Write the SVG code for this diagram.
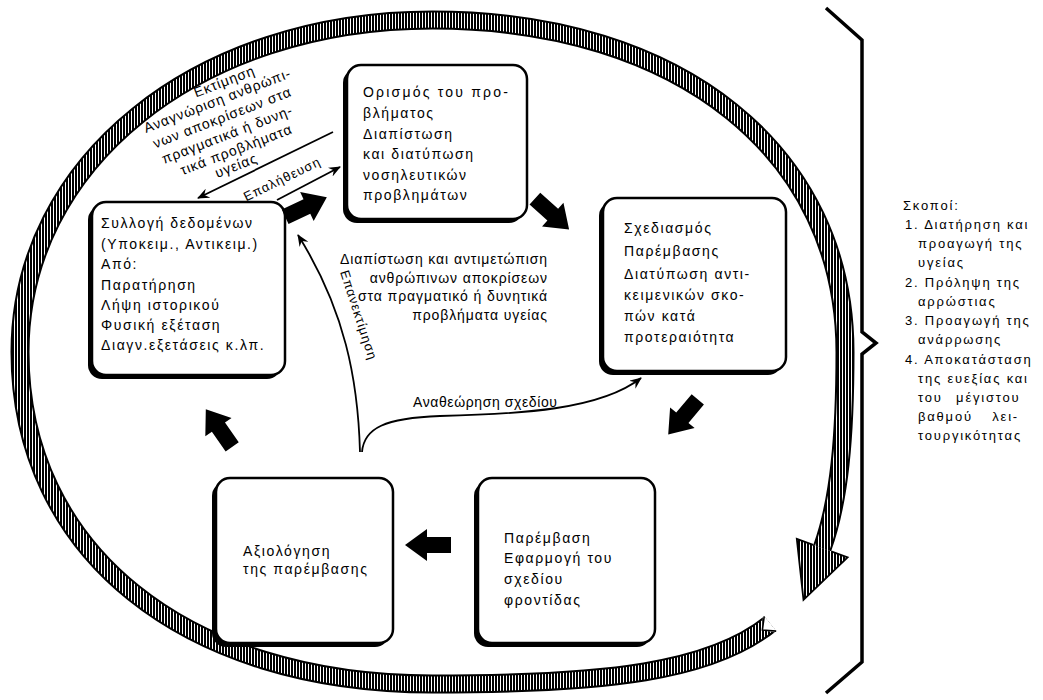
<svg xmlns="http://www.w3.org/2000/svg" width="1043" height="700" viewBox="0 0 1043 700">
<defs>
<pattern id="hatch" patternUnits="userSpaceOnUse" width="3" height="10">
<rect width="3" height="10" fill="#fff"/>
<rect width="2" height="10" fill="#000"/>
</pattern>
<marker id="ah" viewBox="0 0 12 10" refX="11" refY="5" markerWidth="12" markerHeight="10" markerUnits="userSpaceOnUse" orient="auto-start-reverse">
<path d="M0,0 L12,5 L0,10 L4,5 z" fill="#000"/>
</marker>
<path id="blk" d="M-23,-8 L1,-8 L1,-16 L23,0 L1,16 L1,8 L-23,8 Z"/>
</defs>
<style>
.t{font-family:"Liberation Sans","DejaVu Sans",sans-serif;font-size:14px;fill:#000;letter-spacing:1.6px}
.s{font-size:13px;letter-spacing:1px}
.g{font-size:13px;letter-spacing:1.8px}
.c{font-size:14px;letter-spacing:0.9px}
.box{fill:#fff;stroke:#000;stroke-width:2.5}
.shd{fill:#000}
.ln{fill:none;stroke:#000;stroke-width:1.8}
.blk{fill:#000}
</style>
<rect width="1043" height="700" fill="#fff"/>

<g id="ring">
<path d="M770.2 623.75 C710.9 671.5 607.8 684 432.5 684 C185 684 20 551.2 20 352 C20 162.8 197.4 20 432.5 20 C680 20 845 152.8 845 352 C845 436.6 839.4 500.3 822.2 548.1" fill="none" stroke="#000" stroke-width="19"/>
<path d="M770.2 623.75 C710.9 671.5 607.8 684 432.5 684 C185 684 20 551.2 20 352 C20 162.8 197.4 20 432.5 20 C680 20 845 152.8 845 352 C845 436.6 839.4 500.3 822.2 548.1" fill="none" stroke="url(#hatch)" stroke-width="15"/>
<polygon points="847.6,557.3 796.8,538.9 803.5,599.8" fill="url(#hatch)"/>
<polyline points="813.2,544.8 796.8,538.9 803.5,599.8 847.6,557.3 831.2,551.4" fill="none" stroke="#000" stroke-width="1.8"/>
<polygon points="778,633 763,614.5 762.4,630" fill="#fff"/>
<polyline points="776.2,631.1 762.4,630 764.2,616.4" fill="none" stroke="#000" stroke-width="1.6"/>
</g>

<g id="brace">
<path d="M826 8 L862 40 L862 332 L876 343 L862 354 L862 662 L826 693" fill="none" stroke="#000" stroke-width="3.5" stroke-linejoin="miter"/>
</g>

<g id="assessment-label">
<text transform="translate(226,86) rotate(-21)" text-anchor="middle" class="t c">Εκτίμηση</text>
<text transform="translate(219,105) rotate(-21)" text-anchor="middle" class="t c">Αναγνώριση ανθρώπι-</text>
<text transform="translate(224,122) rotate(-21)" text-anchor="middle" class="t c">νων αποκρίσεων στα</text>
<text transform="translate(229,139) rotate(-21)" text-anchor="middle" class="t c">πραγματικά ή δυνη-</text>
<text transform="translate(238,154) rotate(-21)" text-anchor="middle" class="t c">τικά προβλήματα</text>
<text transform="translate(238,170) rotate(-21)" text-anchor="middle" class="t c">υγείας</text>
</g>

<g id="node-collection">
<rect x="88" y="206" width="193" height="173" rx="14" class="shd"/>
<rect x="92" y="202" width="193" height="173" rx="14" class="box"/>
<text class="t" x="101" y="228">Συλλογή δεδομένων</text>
<text class="t" x="101" y="249">(Υποκειμ., Αντικειμ.)</text>
<text class="t" x="101" y="269">Από:</text>
<text class="t" x="101" y="290">Παρατήρηση</text>
<text class="t" x="101" y="310">Λήψη ιστορικού</text>
<text class="t" x="101" y="330">Φυσική εξέταση</text>
<text class="t" x="101" y="350">Διαγν.εξετάσεις κ.λπ.</text>
</g>

<g id="node-definition">
<rect x="343" y="69" width="180" height="154" rx="14" class="shd"/>
<rect x="347" y="65" width="180" height="154" rx="14" class="box"/>
<text class="t" x="363" y="97" style="letter-spacing:2.2px">Ορισμός του προ-</text>
<text class="t" x="363" y="118">βλήματος</text>
<text class="t" x="363" y="139">Διαπίστωση</text>
<text class="t" x="363" y="159">και διατύπωση</text>
<text class="t" x="363" y="180">νοσηλευτικών</text>
<text class="t" x="363" y="200">προβλημάτων</text>
</g>

<g id="node-planning">
<rect x="599" y="202" width="183" height="173" rx="14" class="shd"/>
<rect x="603" y="198" width="183" height="173" rx="14" class="box"/>
<text class="t" x="624" y="233">Σχεδιασμός</text>
<text class="t" x="624" y="256">Παρέμβασης</text>
<text class="t" x="624" y="279">Διατύπωση αντι-</text>
<text class="t" x="624" y="300">κειμενικών σκο-</text>
<text class="t" x="624" y="321">πών κατά</text>
<text class="t" x="624" y="342">προτεραιότητα</text>
</g>

<g id="node-intervention">
<rect x="474" y="482" width="177" height="165" rx="14" class="shd"/>
<rect x="478" y="478" width="177" height="165" rx="14" class="box"/>
<text class="t" x="504" y="543">Παρέμβαση</text>
<text class="t" x="504" y="563">Εφαρμογή του</text>
<text class="t" x="504" y="584">σχεδίου</text>
<text class="t" x="504" y="605">φροντίδας</text>
</g>

<g id="node-evaluation">
<rect x="212" y="482" width="177" height="165" rx="14" class="shd"/>
<rect x="216" y="478" width="177" height="165" rx="14" class="box"/>
<text class="t" x="243" y="556">Αξιολόγηση</text>
<text class="t" x="243" y="574">της παρέμβασης</text>
</g>

<g id="center-label">
<text class="t c" x="548" y="264" text-anchor="end">Διαπίστωση και αντιμετώπιση</text>
<text class="t c" x="548" y="283" text-anchor="end">ανθρώπινων αποκρίσεων</text>
<text class="t c" x="548" y="301" text-anchor="end">στα πραγματικό ή δυνητικά</text>
<text class="t c" x="548" y="320" text-anchor="end">προβλήματα υγείας</text>
</g>

<g id="goals">
<text class="t g" x="903" y="210">Σκοποί:</text>
<text class="t g" x="905" y="229">1. Διατήρηση και</text>
<text class="t g" x="918" y="248">προαγωγή της</text>
<text class="t g" x="918" y="267">υγείας</text>
<text class="t g" x="905" y="287">2. Πρόληψη της</text>
<text class="t g" x="918" y="306">αρρώστιας</text>
<text class="t g" x="905" y="325">3. Προαγωγή της</text>
<text class="t g" x="918" y="344">ανάρρωσης</text>
<text class="t g" x="905" y="364">4. Αποκατάσταση</text>
<text class="t g" x="918" y="383">της ευεξίας και</text>
<text class="t g" x="918" y="402" style="word-spacing:8px">του μέγιστου</text>
<text class="t g" x="918" y="421" style="word-spacing:14px">βαθμού λει-</text>
<text class="t g" x="918" y="440">τουργικότητας</text>
</g>

<g id="connectors">
<use href="#blk" class="blk" transform="translate(306,207) rotate(-25)"/>
<use href="#blk" class="blk" transform="translate(552,214) rotate(42)"/>
<use href="#blk" class="blk" transform="translate(683,417) rotate(130)"/>
<use href="#blk" class="blk" transform="translate(428,545) rotate(180)"/>
<use href="#blk" class="blk" transform="translate(219,428) rotate(-125)"/>
<path class="ln" d="M333 132 L198 198" marker-end="url(#ah)"/>
<path class="ln" d="M277 200 L340 167" marker-end="url(#ah)"/>
<text class="t s" transform="translate(284,183) rotate(-26)" text-anchor="middle">Επαλήθευση</text>
<path class="ln" d="M360 452 C358 380 345 310 298 235" marker-end="url(#ah)"/>
<text class="t s" transform="translate(340,272) rotate(72)">Επανεκτίμηση</text>
<path class="ln" d="M362 452 C364 428 385 418 440 416 C520 414 600 410 641 378" marker-end="url(#ah)"/>
<text class="t c" x="413" y="407" style="letter-spacing:0.6px">Αναθεώρηση σχεδίου</text>
</g>
</svg>
